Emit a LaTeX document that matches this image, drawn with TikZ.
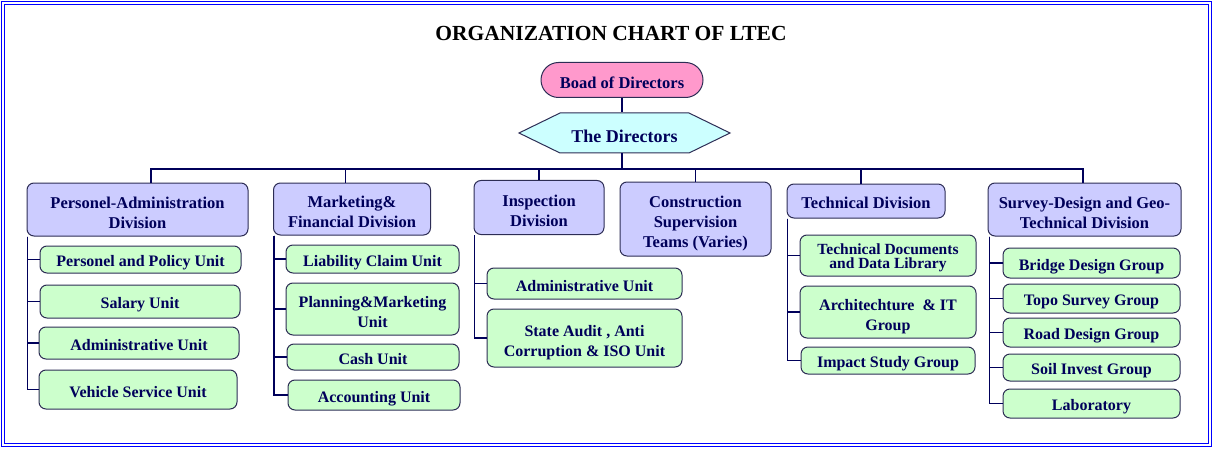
\documentclass[tikz,border=0pt]{standalone}
\usepackage{fontspec}
\setmainfont{Liberation Serif}
\usetikzlibrary{shapes.misc,shapes.symbols}
\definecolor{navy}{RGB}{0,0,90}
\definecolor{boxline}{RGB}{45,45,85}
\definecolor{lavender}{RGB}{204,204,255}
\definecolor{mint}{RGB}{204,255,204}
\definecolor{boardpink}{RGB}{255,153,204}
\definecolor{dircyan}{RGB}{204,255,255}
\begin{document}
\begin{tikzpicture}[x=1pt,y=-1pt,
    box/.style={draw=boxline, line width=1pt, rounded corners=7pt, align=center,
        text=navy, inner sep=0pt},
    lower/.style={execute at begin node={\rule{0pt}{#1}},
        execute at end node={\rule[-3pt]{0pt}{3pt}}},
    division/.style={box, fill=lavender, lower=18pt, font=\bfseries\fontsize{16.5}{20}\selectfont},
    unit/.style={box, fill=mint, lower=18pt, font=\bfseries\fontsize{16}{20}\selectfont},
    link/.style={draw=navy, line width=1.8pt},
    spine/.style={draw=navy, line width=1.2pt}]
    \useasboundingbox (0,0) rectangle (1214,449);
    \draw[blue, line width=1pt, double=white, double distance=2pt] (2.5,3.5) rectangle (1210.3,444.5);

    \node[font=\bfseries\fontsize{21.5}{24}\selectfont] (title) at (611,33) {ORGANIZATION CHART OF LTEC};
    \node[rounded rectangle, draw=boxline, line width=1pt, fill=boardpink, text=navy,
        minimum width=162pt, minimum height=35pt, inner sep=0pt, lower=21pt,
        font=\bfseries\fontsize{16.5}{19}\selectfont] (board) at (622,80) {Boad of Directors};
    \node[signal, signal to=west and east, signal pointer angle=52, draw=boxline, line width=1pt,
        fill=dircyan, text=navy, minimum width=211pt, minimum height=40pt, inner sep=0pt, lower=22pt,
        font=\bfseries\fontsize{18}{20}\selectfont] (dirs) at (624.5,133) {The Directors};
    \coordinate (bus) at (622,169);

    \node[division, lower=41pt, minimum width=221pt, minimum height=53pt] (pa) at (137.5,209.5) {Personel-Administration\\Division};
    \node[division, lower=40pt, minimum width=157pt, minimum height=52pt] (mf) at (352,209) {Marketing\&\\Financial Division};
    \node[division, lower=41pt, minimum width=130pt, minimum height=54pt] (ins) at (539,207.5) {Inspection\\Division};
    \node[division, lower=61pt, minimum width=151pt, minimum height=74pt] (cs) at (695.5,219) {Construction\\Supervision\\Teams (Varies)};
    \node[division, minimum width=158pt, minimum height=34pt] (tech) at (866,201) {Technical Division};
    \node[division, lower=41pt, minimum width=193pt, minimum height=53pt] (sd) at (1084.5,209.5) {Survey-Design and Geo-\\Technical Division};

    \node[unit, minimum width=201pt, minimum height=27pt] (pa1) at (140.5,259.5) {Personel and Policy Unit};
    \node[unit, minimum width=200pt, minimum height=33pt] (pa2) at (140,301.5) {Salary Unit};
    \node[unit, minimum width=200pt, minimum height=32pt] (pa3) at (139,343) {Administrative Unit};
    \node[unit, minimum width=198pt, minimum height=39pt] (pa4) at (138,389.5) {Vehicle Service Unit};

    \node[unit, minimum width=173pt, minimum height=28pt] (mf1) at (372.5,259) {Liability Claim Unit};
    \node[unit, lower=39pt, minimum width=173pt, minimum height=52pt] (mf2) at (372.5,309) {Planning\&Marketing\\Unit};
    \node[unit, minimum width=172pt, minimum height=26pt] (mf3) at (373,357) {Cash Unit};
    \node[unit, minimum width=172pt, minimum height=30pt] (mf4) at (374,395) {Accounting Unit};

    \node[unit, minimum width=195pt, minimum height=31pt] (ins1) at (584.5,283.5) {Administrative Unit};
    \node[unit, lower=41pt, minimum width=195pt, minimum height=58pt] (ins2) at (584.5,338) {State Audit , Anti\\Corruption \& ISO Unit};

    \node[box, fill=mint, lower=29pt, minimum width=176pt, minimum height=41pt,
        font=\bfseries\fontsize{15.5}{13.5}\selectfont] (tech1) at (888,255.5) {Technical Documents\\and Data Library};
    \node[unit, lower=40pt, minimum width=176pt, minimum height=52pt] (tech2) at (888,312) {Architechture~ \& IT\\Group};
    \node[unit, minimum width=174pt, minimum height=27pt] (tech3) at (888,360.5) {Impact Study Group};

    \node[unit, minimum width=177pt, minimum height=30pt] (sd1) at (1091.5,263) {Bridge Design Group};
    \node[unit, minimum width=177pt, minimum height=29pt] (sd2) at (1091.5,298.5) {Topo Survey Group};
    \node[unit, minimum width=177pt, minimum height=29pt] (sd3) at (1091.5,332.5) {Road Design Group};
    \node[unit, minimum width=177pt, minimum height=27pt] (sd4) at (1091.5,367.5) {Soil Invest Group};
    \node[unit, minimum width=177pt, minimum height=29pt] (sd5) at (1091.5,403.5) {Laboratory};

    \draw[link] (board.south) -- (board.south |- dirs.north);
    \draw[link] (board.south |- dirs.south) -- (bus);
    \draw[link] (bus) -| ([xshift=13.5pt]pa.north);
    \draw[link] (bus) -| ([xshift=-6.5pt]mf.north);
    \draw[link] (bus) -| (ins.north);
    \draw[link] (bus) -| (cs.north);
    \draw[link] (bus) -| ([xshift=-5pt]tech.north);
    \draw[link] (bus) -| ([xshift=-1.5pt]sd.north);

    \foreach \u in {pa1,pa2,pa3,pa4}
        \draw[spine] ([xshift=1pt]pa.south west) |- (\u.west);
    \foreach \u in {mf1,mf2,mf3,mf4}
        \draw[spine] ([xshift=1pt]mf.south west) |- (\u.west);
    \foreach \u in {ins1,ins2}
        \draw[spine] ([xshift=1pt]ins.south west) |- (\u.west);
    \foreach \u in {tech1,tech2,tech3}
        \draw[spine] ([xshift=1pt]tech.south west) |- (\u.west);
    \foreach \u in {sd1,sd2,sd3,sd4,sd5}
        \draw[spine] ([xshift=2pt]sd.south west) |- (\u.west);
\end{tikzpicture}
\end{document}
